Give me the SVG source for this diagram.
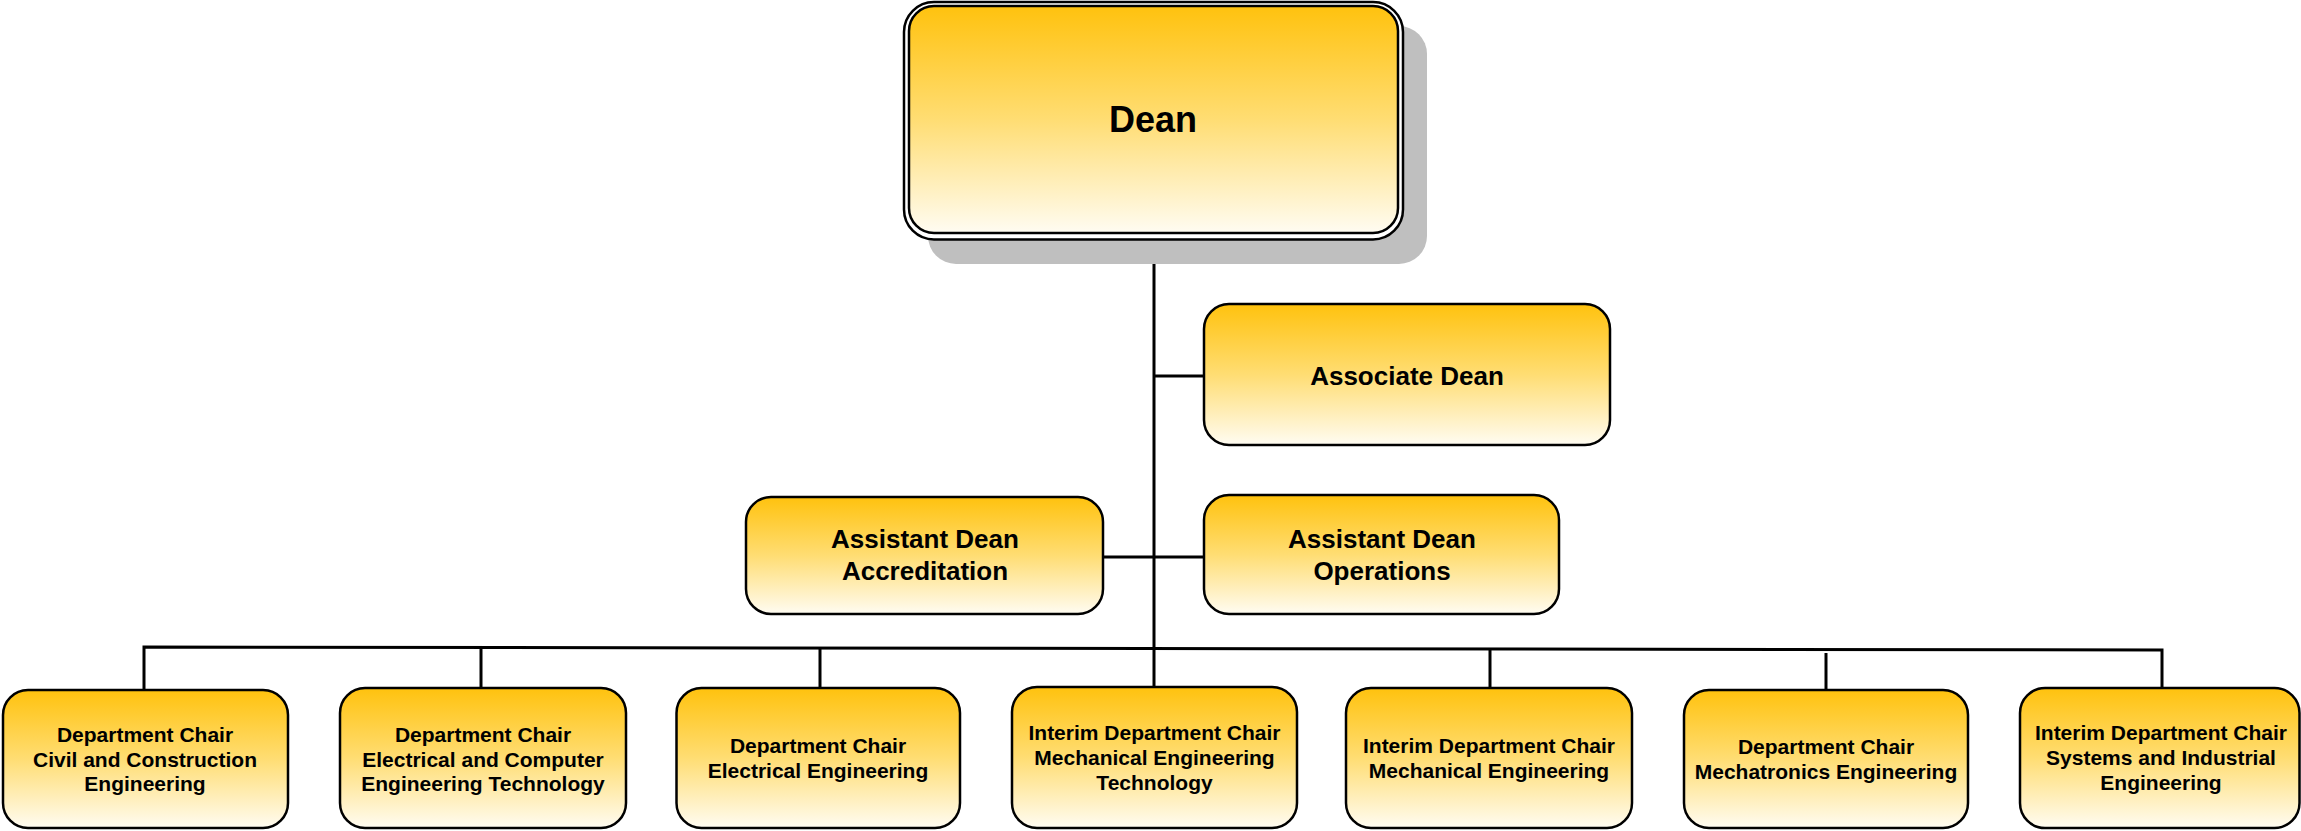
<svg xmlns="http://www.w3.org/2000/svg" width="2301" height="831" viewBox="0 0 2301 831">
  <defs>
    <linearGradient id="gold" x1="0" y1="0" x2="0" y2="1">
      <stop offset="0" stop-color="#FFC20E"/>
      <stop offset="0.5" stop-color="#FFDD73"/>
      <stop offset="1" stop-color="#FFFCF2"/>
    </linearGradient>
    <style>
      .box { fill: url(#gold); stroke: #000; stroke-width: 2.5; }
      .outer { fill: #fff; stroke: #000; stroke-width: 2.5; }
      .shadow { fill: #BFBFBF; stroke: none; }
      .conn { fill: none; stroke: #000; stroke-width: 3; }
      text { font-family: "Liberation Sans", Arial, sans-serif; font-weight: bold; fill: #000; text-anchor: middle; }
      .t36 { font-size: 36px; }
      .t26 { font-size: 26px; }
      .t21 { font-size: 21px; }
    </style>
  </defs>

  <g id="connectors">
    <line class="conn" x1="1154" y1="239" x2="1154" y2="688"/>
    <line class="conn" x1="1154" y1="376" x2="1204" y2="376"/>
    <line class="conn" x1="1103" y1="557" x2="1204" y2="557"/>
    <polyline class="conn" points="144,690 144,647 2162,650 2162,688"/>
    <line class="conn" x1="481" y1="647.5" x2="481" y2="688"/>
    <line class="conn" x1="820" y1="648" x2="820" y2="688"/>
    <line class="conn" x1="1490" y1="649" x2="1490" y2="688"/>
    <line class="conn" x1="1826" y1="653" x2="1826" y2="690"/>
  </g>

  <g id="dean">
    <rect class="shadow" x="928" y="26" width="499" height="238" rx="28" ry="28"/>
    <rect class="outer" x="904" y="2" width="499" height="237.5" rx="30" ry="30"/>
    <rect class="box" x="909" y="6" width="489" height="227" rx="25" ry="25"/>
    <text class="t36" x="1153" y="132">Dean</text>
  </g>

  <g id="associate-dean">
    <rect class="box" x="1204" y="304" width="406" height="141" rx="25" ry="25"/>
    <text class="t26" x="1407" y="385">Associate Dean</text>
  </g>

  <g id="asst-dean-accreditation">
    <rect class="box" x="746" y="497" width="357" height="117" rx="25" ry="25"/>
    <text class="t26" x="925" y="548">Assistant Dean</text>
    <text class="t26" x="925" y="580">Accreditation</text>
  </g>

  <g id="asst-dean-operations">
    <rect class="box" x="1204" y="495" width="355" height="119" rx="25" ry="25"/>
    <text class="t26" x="1382" y="548">Assistant Dean</text>
    <text class="t26" x="1382" y="580">Operations</text>
  </g>

  <g id="chair-civil">
    <rect class="box" x="3" y="690" width="285" height="138" rx="25" ry="25"/>
    <text class="t21" x="145" y="742">Department Chair</text>
    <text class="t21" x="145" y="766.5">Civil and Construction</text>
    <text class="t21" x="145" y="791">Engineering</text>
  </g>

  <g id="chair-ecet">
    <rect class="box" x="340" y="688" width="286" height="140" rx="25" ry="25"/>
    <text class="t21" x="483" y="742">Department Chair</text>
    <text class="t21" x="483" y="766.5">Electrical and Computer</text>
    <text class="t21" x="483" y="791">Engineering Technology</text>
  </g>

  <g id="chair-ee">
    <rect class="box" x="676.5" y="688" width="283.5" height="140" rx="25" ry="25"/>
    <text class="t21" x="818" y="753">Department Chair</text>
    <text class="t21" x="818" y="777.5">Electrical Engineering</text>
  </g>

  <g id="chair-met">
    <rect class="box" x="1012" y="687" width="285" height="141" rx="25" ry="25"/>
    <text class="t21" x="1154.5" y="740">Interim Department Chair</text>
    <text class="t21" x="1154.5" y="765">Mechanical Engineering</text>
    <text class="t21" x="1154.5" y="790">Technology</text>
  </g>

  <g id="chair-me">
    <rect class="box" x="1346" y="688" width="286" height="140" rx="25" ry="25"/>
    <text class="t21" x="1489" y="753">Interim Department Chair</text>
    <text class="t21" x="1489" y="778">Mechanical Engineering</text>
  </g>

  <g id="chair-mechatronics">
    <rect class="box" x="1684" y="690" width="284" height="138" rx="25" ry="25"/>
    <text class="t21" x="1826" y="754">Department Chair</text>
    <text class="t21" x="1826" y="779">Mechatronics Engineering</text>
  </g>

  <g id="chair-sie">
    <rect class="box" x="2020" y="688" width="279.5" height="140" rx="25" ry="25"/>
    <text class="t21" x="2161" y="740">Interim Department Chair</text>
    <text class="t21" x="2161" y="764.5">Systems and Industrial</text>
    <text class="t21" x="2161" y="790">Engineering</text>
  </g>
</svg>
